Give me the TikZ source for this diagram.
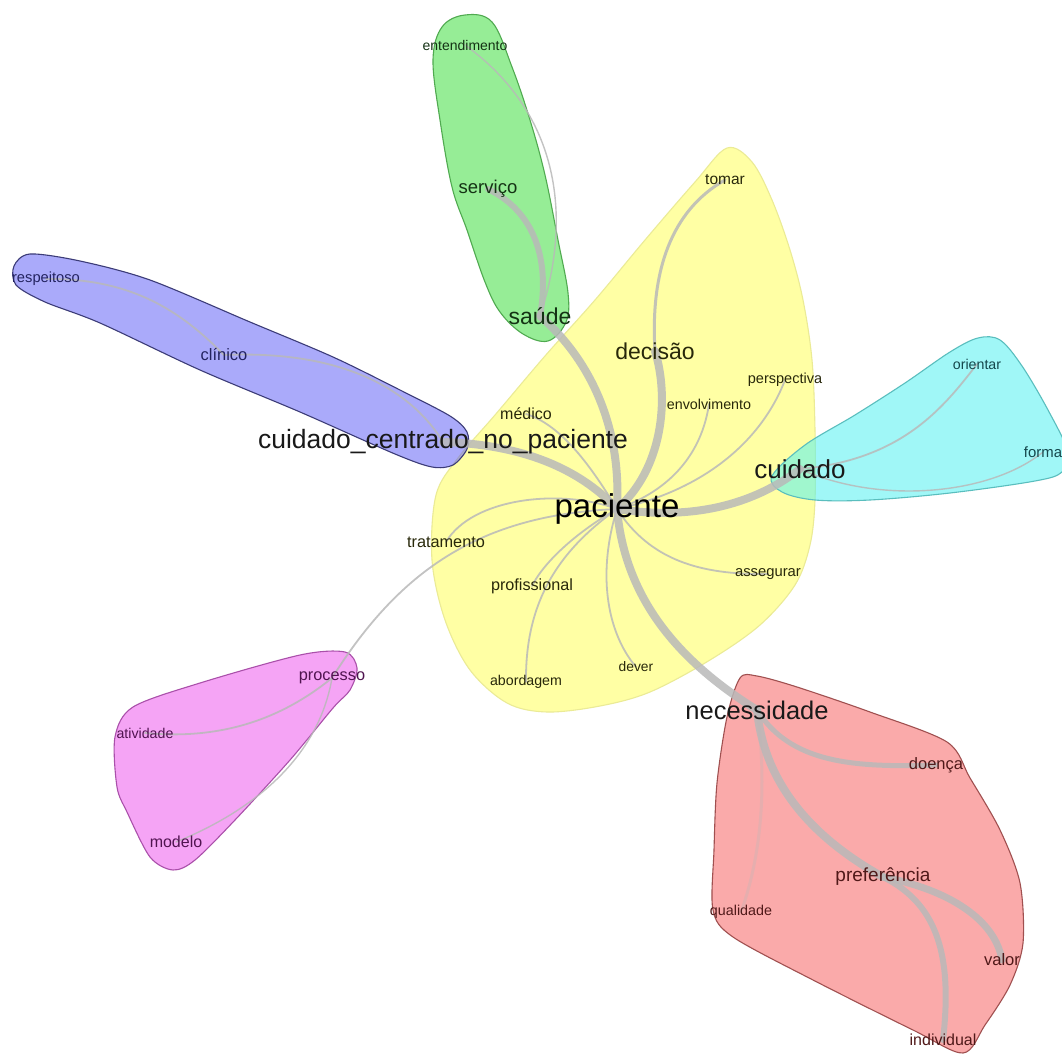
\documentclass[tikz,border=0pt]{standalone}
\usepackage{fontspec}
\setmainfont{Liberation Sans}
\pgfdeclarelayer{hulls}
\pgfdeclarelayer{edges}
\pgfsetlayers{hulls,edges,main}
\definecolor{yfill}{RGB}{255,255,91}
\definecolor{cfill}{RGB}{82,242,242}
\definecolor{gfill}{RGB}{64,224,64}
\definecolor{bfill}{RGB}{101,101,246}
\definecolor{pfill}{RGB}{237,91,237}
\definecolor{rfill}{RGB}{246,101,101}
\definecolor{ydraw}{RGB}{235,235,150}
\definecolor{cdraw}{RGB}{90,190,190}
\definecolor{gdraw}{RGB}{80,170,80}
\definecolor{bdraw}{RGB}{60,60,120}
\definecolor{pdraw}{RGB}{170,80,170}
\definecolor{rdraw}{RGB}{160,80,80}
\definecolor{egray}{RGB}{185,185,185}
\definecolor{ytxt}{RGB}{40,40,10}
\definecolor{gtxt}{RGB}{20,50,20}
\definecolor{btxt}{RGB}{35,35,95}
\definecolor{ctxt}{RGB}{20,70,75}
\definecolor{ptxt}{RGB}{80,20,80}
\definecolor{rtxt}{RGB}{80,25,25}
\definecolor{bigtxt}{RGB}{25,25,25}
\begin{document}
\begin{tikzpicture}[x=1pt,y=-1pt,
  fs/.style={inner sep=0pt, font=\fontsize{#1}{#1}\selectfont},
  hull/.style={fill opacity=0.55, line width=1.1pt},
  lnk/.style={draw=egray, line width=#1, line cap=round, opacity=0.85}]
\clip (0,0) rectangle (1062,1062);

% ---- words ----
\node[fs=33, text=black] (paciente) at (617,509) {paciente};
\node[fs=26.5, text=bigtxt] (ccnp) at (443,442) {cuidado\_centrado\_no\_paciente};
\node[fs=26, text=bigtxt] (cuidado) at (800,469) {cuidado};
\node[fs=25.5, text=bigtxt] (necessidade) at (757,710) {necessidade};
\node[fs=23, text=gtxt] (saude) at (540,316) {saúde};
\node[fs=23, text=ytxt] (decisao) at (655,351) {decisão};
\node[fs=18.5, text=gtxt] (servico) at (488,189) {serviço};
\node[fs=14, text=gtxt] (entendimento) at (465,45) {entendimento};
\node[fs=15.5, text=ytxt] (tomar) at (725,180) {tomar};
\node[fs=14.5, text=ytxt] (perspectiva) at (785,380) {perspectiva};
\node[fs=14.3, text=ytxt] (envolvimento) at (709,404) {envolvimento};
\node[fs=16, text=ytxt] (medico) at (526,414) {médico};
\node[fs=16.3, text=ytxt] (tratamento) at (446,542) {tratamento};
\node[fs=16.2, text=ytxt] (profissional) at (532,586) {profissional};
\node[fs=14.8, text=ytxt] (assegurar) at (768,574) {assegurar};
\node[fs=13.8, text=ytxt] (dever) at (636,667) {dever};
\node[fs=14.2, text=ytxt] (abordagem) at (526,682) {abordagem};
\node[fs=14.7, text=btxt] (respeitoso) at (46,279) {respeitoso};
\node[fs=16.5, text=btxt] (clinico) at (224,355) {clínico};
\node[fs=14.2, text=ctxt] (orientar) at (977,364) {orientar};
\node[fs=14.9, text=ctxt] (forma) at (1043,452) {forma};
\node[fs=16.3, text=ptxt] (processo) at (332,678) {processo};
\node[fs=14.2, text=ptxt] (atividade) at (145,733) {atividade};
\node[fs=16, text=ptxt] (modelo) at (176,842) {modelo};
\node[fs=16.5, text=rtxt] (doenca) at (936,765) {doença};
\node[fs=19, text=rtxt] (preferencia) at (883,877) {preferência};
\node[fs=14.3, text=rtxt] (qualidade) at (741,912) {qualidade};
\node[fs=16.6, text=rtxt] (valor) at (1002,960) {valor};
\node[fs=16, text=rtxt] (individual) at (943,1040) {individual};

% ---- hulls ----
\begin{pgfonlayer}{hulls}
\fill[white] (0,0) rectangle (1062,1062);
\filldraw[hull, fill=yfill, draw=ydraw] plot[smooth cycle, tension=0.55] coordinates {
 (727,148) (752,162) (772,200) (790,250) (803,300) (812,360) (815,430) (815,500)
 (810,545) (795,585) (760,625) (710,660) (650,692) (600,706) (547,712) (507,703)
 (470,670) (445,620) (432,560) (436,495) (458,458) (495,415) (545,356) (595,300)
 (645,240) (695,182)};
\filldraw[hull, fill=gfill, draw=gdraw] plot[smooth cycle, tension=0.6] coordinates {
 (465,15) (492,22) (512,67) (530,120) (545,175) (558,240) (568,293) (566,322)
 (548,341) (523,334) (500,312) (485,282) (467,230) (452,187) (440,120) (433,60) (442,27)};
\filldraw[hull, fill=bfill, draw=bdraw] plot[smooth cycle, tension=0.5] coordinates {
 (30,254) (80,261) (150,280) (250,322) (333,357) (400,390) (450,416) (467,432)
 (467,449) (453,465) (432,467) (395,454) (300,412) (200,370) (100,323) (45,302)
 (16,285) (14,266)};
\filldraw[hull, fill=cfill, draw=cdraw] plot[smooth cycle, tension=0.55] coordinates {
 (772,476) (805,445) (855,415) (905,383) (950,352) (978,338) (1000,340) (1022,366)
 (1048,410) (1068,452) (1062,472) (1035,481) (950,493) (870,500) (815,500) (782,492)};
\filldraw[hull, fill=pfill, draw=pdraw] plot[smooth cycle, tension=0.5] coordinates {
 (300,655) (345,652) (357,668) (350,690) (333,708) (290,760) (235,820) (195,860)
 (173,870) (150,857) (127,812) (117,787) (115,737) (133,707) (200,683)};
\filldraw[hull, fill=rfill, draw=rdraw] plot[smooth cycle, tension=0.5] coordinates {
 (740,678) (757,676) (797,687) (870,712) (947,742) (970,778) (1000,830) (1020,883)
 (1023,943) (1010,985) (985,1025) (963,1053) (913,1030) (813,980) (733,937)
 (713,910) (714,850) (717,783) (727,717)};
\end{pgfonlayer}

% ---- connectors ----
\begin{pgfonlayer}{edges}
\draw[lnk=8pt] (paciente.center) .. controls (622,420) and (585,355) .. (saude.center);
\draw[lnk=6pt] (saude.center) .. controls (550,260) and (535,212) .. (servico.center);
\draw[lnk=1.4pt] (saude.center) .. controls (575,210) and (555,110) .. (entendimento.center);
\draw[lnk=8pt] (paciente.center) .. controls (662,470) and (670,400) .. (decisao.center);
\draw[lnk=3pt] (decisao.center) .. controls (650,270) and (672,210) .. (tomar.center);
\draw[lnk=8pt] (paciente.center) .. controls (590,480) and (540,445) .. (ccnp.center);
\draw[lnk=1.8pt] (ccnp.center) .. controls (410,388) and (340,350) .. (clinico.center);
\draw[lnk=1.8pt] (clinico.center) .. controls (180,310) and (130,278) .. (respeitoso.center);
\draw[lnk=1.8pt] (paciente.center) .. controls (592,468) and (562,425) .. (medico.center);
\draw[lnk=1.8pt] (paciente.center) .. controls (672,490) and (702,452) .. (envolvimento.center);
\draw[lnk=1.8pt] (paciente.center) .. controls (705,490) and (762,440) .. (perspectiva.center);
\draw[lnk=8pt] (paciente.center) .. controls (700,522) and (760,500) .. (cuidado.center);
\draw[lnk=1.8pt] (cuidado.center) .. controls (900,460) and (942,410) .. (orientar.center);
\draw[lnk=1.4pt] (cuidado.center) .. controls (880,505) and (990,495) .. (forma.center);
\draw[lnk=1.8pt] (paciente.center) .. controls (560,488) and (472,498) .. (tratamento.center);
\draw[lnk=1.8pt] (paciente.center) .. controls (480,515) and (400,570) .. (processo.center);
\draw[lnk=1.8pt] (paciente.center) .. controls (580,530) and (545,560) .. (profissional.center);
\draw[lnk=1.8pt] (paciente.center) .. controls (560,550) and (525,600) .. (abordagem.center);
\draw[lnk=1.8pt] (paciente.center) .. controls (598,570) and (605,630) .. (dever.center);
\draw[lnk=1.8pt] (paciente.center) .. controls (650,560) and (700,575) .. (assegurar.center);
\draw[lnk=8pt] (paciente.center) .. controls (625,600) and (680,662) .. (necessidade.center);
\draw[lnk=8pt] (necessidade.center) .. controls (765,790) and (820,842) .. (preferencia.center);
\draw[lnk=5pt] (necessidade.center) .. controls (790,762) and (850,768) .. (doenca.center);
\draw[lnk=7pt] (preferencia.center) .. controls (950,890) and (995,920) .. (valor.center);
\draw[lnk=6pt] (preferencia.center) .. controls (940,905) and (952,960) .. (individual.center);
\draw[lnk=3pt, opacity=0.3] (necessidade.center) .. controls (768,790) and (760,860) .. (qualidade.center);
\draw[lnk=1.8pt] (processo.center) .. controls (280,720) and (220,740) .. (atividade.center);
\draw[lnk=1.4pt] (processo.center) .. controls (318,760) and (250,812) .. (modelo.center);
\end{pgfonlayer}
\end{tikzpicture}
\end{document}
